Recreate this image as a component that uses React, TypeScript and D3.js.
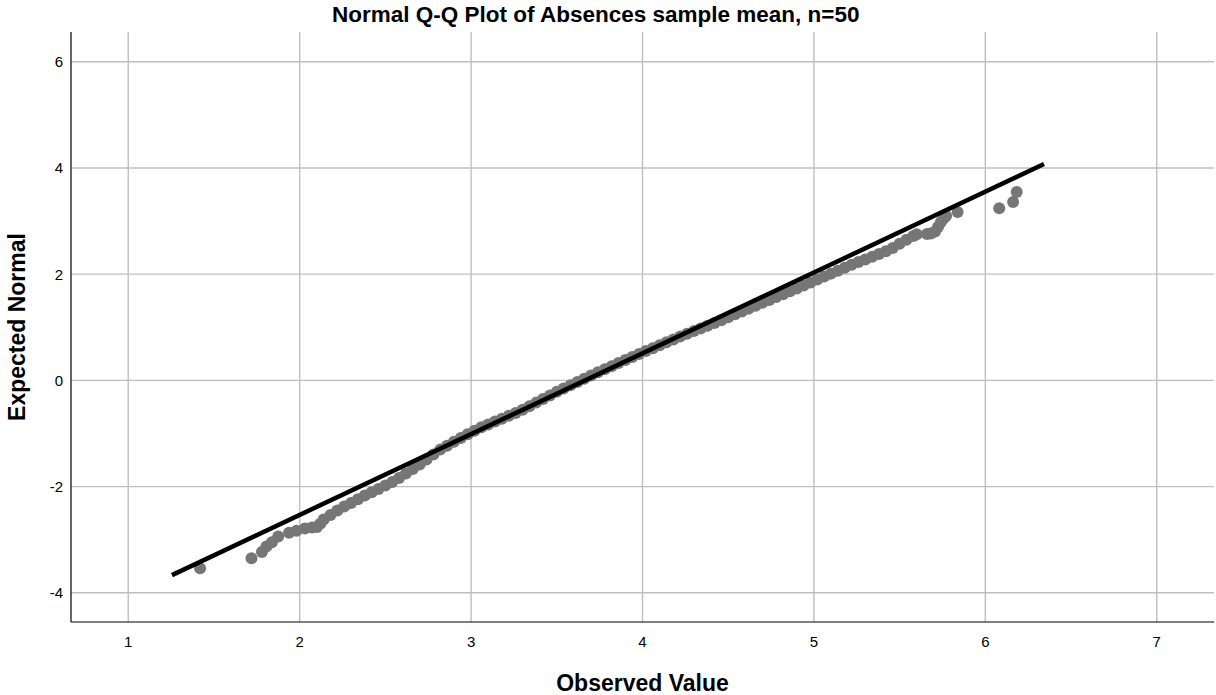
import React from "react";
import * as d3 from "d3";

const TITLE = "Normal Q-Q Plot of Absences sample mean, n=50";
const X_LABEL = "Observed Value";
const Y_LABEL = "Expected Normal";
const xTicks = [1, 2, 3, 4, 5, 6, 7];
const yTicks = [-4, -2, 0, 2, 4, 6];

const observed = [
  1.419, 1.719, 1.78, 1.806, 1.838, 1.875, 1.938, 1.982, 2.031, 2.072, 2.101, 2.12,
  2.14, 2.18, 2.22, 2.26, 2.3, 2.34, 2.38, 2.42, 2.46, 2.5, 2.54, 2.58, 2.62, 2.66, 2.7,
  2.74, 2.78, 2.82, 2.86, 2.9, 2.94, 2.98, 3.02, 3.06, 3.1, 3.14, 3.18, 3.22, 3.26, 3.3,
  3.34, 3.38, 3.42, 3.46, 3.5, 3.54, 3.58, 3.62, 3.66, 3.7, 3.74, 3.78, 3.82, 3.86, 3.9,
  3.94, 3.98, 4.02, 4.06, 4.1, 4.14, 4.18, 4.22, 4.26, 4.3, 4.34, 4.38, 4.42, 4.46, 4.5,
  4.54, 4.58, 4.62, 4.66, 4.7, 4.74, 4.78, 4.82, 4.86, 4.9, 4.94, 4.98, 5.02, 5.06, 5.1,
  5.14, 5.18, 5.22, 5.26, 5.3, 5.34, 5.38, 5.42, 5.46, 5.5, 5.54, 5.58, 5.6,
  5.66, 5.683, 5.707, 5.724, 5.741, 5.759, 5.771, 5.838, 6.081, 6.162, 6.183,
];
const expected = [
  -3.54, -3.35, -3.23, -3.13, -3.05, -2.94, -2.87, -2.83, -2.79, -2.77, -2.76, -2.7,
  -2.62, -2.536, -2.452, -2.377, -2.307, -2.238, -2.169, -2.106, -2.044, -1.981, -1.915,
  -1.84, -1.755, -1.669, -1.583, -1.49, -1.397, -1.304, -1.23, -1.157, -1.085, -1.016,
  -0.948, -0.884, -0.829, -0.775, -0.722, -0.668, -0.613, -0.554, -0.486, -0.419, -0.351,
  -0.284, -0.216, -0.152, -0.091, -0.03, 0.03, 0.091, 0.152, 0.211, 0.268, 0.326, 0.384,
  0.442, 0.498, 0.553, 0.607, 0.662, 0.717, 0.771, 0.826, 0.876, 0.928, 0.979, 1.03,
  1.082, 1.134, 1.188, 1.243, 1.296, 1.351, 1.405, 1.46, 1.514, 1.569, 1.623, 1.677,
  1.731, 1.786, 1.842, 1.898, 1.954, 2.01, 2.065, 2.121, 2.176, 2.227, 2.278, 2.329,
  2.381, 2.431, 2.493, 2.572, 2.648, 2.72, 2.75,
  2.755, 2.765, 2.802, 2.887, 2.981, 3.056, 3.094, 3.17, 3.239, 3.358, 3.546,
];

// Reference line end points
const refObserved = [1.255, 6.342];
const refExpected = [-3.667, 4.073];

const FONT = "'Liberation Sans', Arial, Helvetica, sans-serif";

export default function App() {
  const W = 1216;
  const H = 695;
  const left = 71;
  const right = 1214;
  const top = 32;
  const bottom = 622;

  const x = d3.scaleLinear().domain([0.666, 7.334]).range([left, right]);
  const y = d3.scaleLinear().domain([-4.55, 6.56]).range([bottom, top]);

  const pts: [number, number][] = observed.map((o, i) => [o, expected[i]]);
  const refPts: [number, number][] = refObserved.map((o, i) => [o, refExpected[i]]);
  const lineGen = d3
    .line<[number, number]>()
    .x((d) => x(d[0]))
    .y((d) => y(d[1]));

  const gridColor = "#bfbfbf";

  return (
    <div style={{ position: "absolute", left: 0, top: 0 }}>
      <svg width={W} height={H} style={{ display: "block", background: "#fff" }}>
        {/* grid */}
        {xTicks.map((t) => (
          <line key={"gx" + t} x1={x(t)} x2={x(t)} y1={top} y2={bottom} stroke={gridColor} strokeWidth={1.4} />
        ))}
        {yTicks.map((t) => (
          <line key={"gy" + t} x1={left} x2={right} y1={y(t)} y2={y(t)} stroke={gridColor} strokeWidth={1.4} />
        ))}
        {/* axes */}
        <line x1={left} x2={left} y1={top} y2={bottom} stroke="#000" strokeWidth={1.2} />
        <line x1={left} x2={right} y1={bottom} y2={bottom} stroke="#000" strokeWidth={1.2} />
        {/* tick labels */}
        {yTicks.map((t) => (
          <text key={"ty" + t} x={63} y={y(t)} dy="0.36em" textAnchor="end" fontFamily={FONT} fontSize={15} fill="#000">
            {t}
          </text>
        ))}
        {xTicks.map((t) => (
          <text key={"tx" + t} x={x(t)} y={647} textAnchor="middle" fontFamily={FONT} fontSize={15} fill="#000">
            {t}
          </text>
        ))}
        {/* points */}
        {pts.map((p, i) => (
          <circle key={"p" + i} cx={x(p[0])} cy={y(p[1])} r={6} fill="#767676" />
        ))}
        {/* reference line */}
        <path d={lineGen(refPts) || ""} stroke="#000" strokeWidth={4.5} fill="none" />
        {/* titles */}
        <text x={332} y={22} textAnchor="start" fontFamily={FONT} fontSize={22.5} fontWeight="bold" fill="#000">
          {TITLE}
        </text>
        <text x={(left + right) / 2} y={691} textAnchor="middle" fontFamily={FONT} fontSize={23} fontWeight="bold" fill="#000">
          {X_LABEL}
        </text>
        <text
          transform={`translate(25,${(top + bottom) / 2}) rotate(-90)`}
          textAnchor="middle"
          fontFamily={FONT}
          fontSize={23}
          fontWeight="bold"
          fill="#000"
        >
          {Y_LABEL}
        </text>
      </svg>
    </div>
  );
}
